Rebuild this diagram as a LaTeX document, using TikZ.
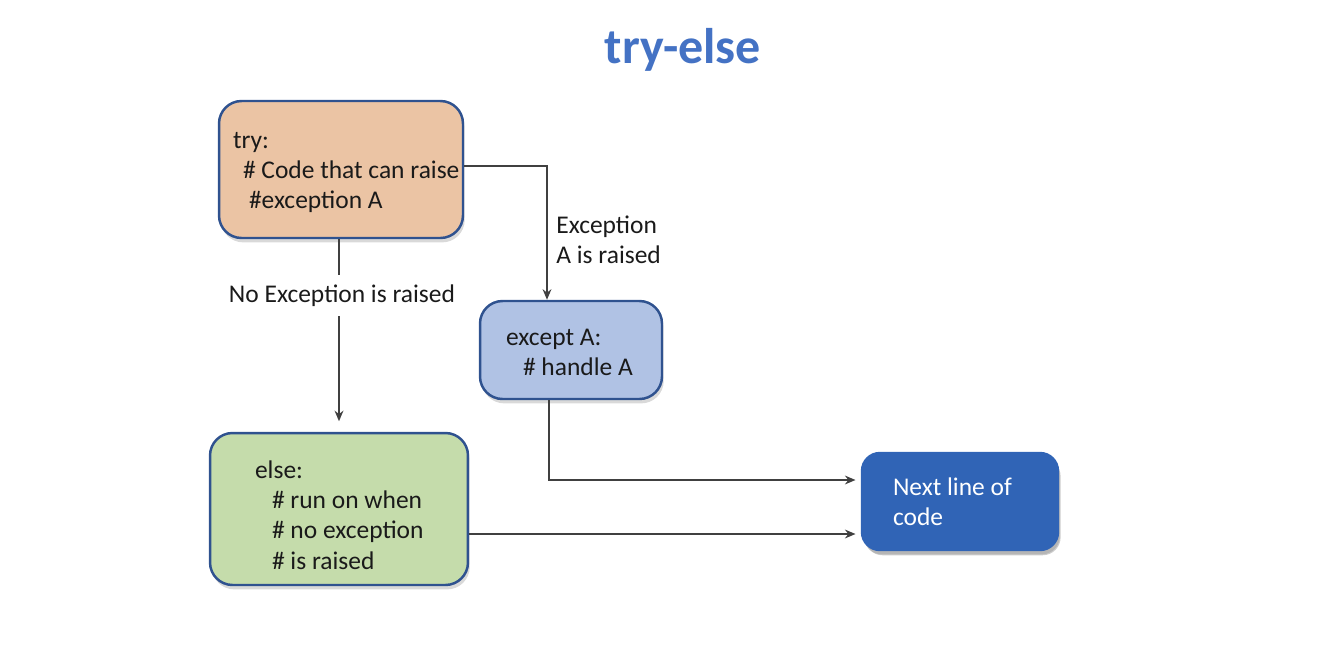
\documentclass[tikz,border=0pt]{standalone}
\usepackage{fontspec}
\setmainfont{Carlito}
\usetikzlibrary{arrows.meta,shadows}
\definecolor{bordc}{HTML}{2F528F}
\definecolor{tryc}{HTML}{EBC4A4}
\definecolor{excc}{HTML}{B0C2E4}
\definecolor{elsec}{HTML}{C5DCAB}
\definecolor{nextc}{HTML}{3064B6}
\definecolor{titlec}{HTML}{4472C4}
\definecolor{linec}{HTML}{404040}
\definecolor{txtc}{HTML}{1A1A1A}
\hbadness=10000 \hfuzz=100pt
\begin{document}
\begin{tikzpicture}[x=0.02cm,y=-0.02cm,
  box/.style={draw=bordc, line width=1.4pt, rounded corners=0.45cm, align=flush left, text=txtc,
    font=\fontsize{14.5}{17.2}\selectfont, inner ysep=0pt,
    drop shadow={shadow xshift=1pt, shadow yshift=-2.5pt, opacity=0.3}},
  arr/.style={draw=linec, line width=1.1pt, -{Stealth[length=6pt,width=5pt]}},
  ln/.style={draw=linec, line width=1.1pt},
  lbl/.style={text=txtc, font=\fontsize{14.5}{17.2}\selectfont, align=left, inner sep=0pt}]
\useasboundingbox (0,0) rectangle (1326,660);
\node[font=\fontsize{28.5}{34}\selectfont\bfseries, text=titlec] (title) at (683,50) {try-else};
\node[box, fill=tryc, minimum width=4.88cm, minimum height=2.74cm, text width=4.32cm, inner xsep=0.28cm] (try) at (341,169.5)
  {\mbox{\rule{0pt}{12.4pt}try:}\\\mbox{\hspace*{0.2cm}\# Code that can raise}\\\mbox{\hspace*{0.32cm}\#exception A}};
\node[box, fill=excc, minimum width=3.64cm, minimum height=1.96cm, text width=2.6cm, inner xsep=0.52cm] (except) at (571,350)
  {\mbox{\rule{0pt}{12.3pt}except A:}\\\mbox{\hspace*{0.34cm}\# handle A}};
\node[box, fill=elsec, minimum width=5.16cm, minimum height=3.04cm, text width=3.36cm, inner xsep=0.9cm] (else) at (339,509)
  {\mbox{\rule{0pt}{17pt}else:}\\\mbox{\hspace*{0.34cm}\# run on when}\\\mbox{\hspace*{0.34cm}\# no exception}\\\mbox{\hspace*{0.34cm}\# is raised}};
\node[box, draw=nextc, fill=nextc, text=white, rounded corners=0.36cm, minimum width=3.92cm, minimum height=1.94cm, text width=2.68cm, inner xsep=0.62cm,
  drop shadow={shadow xshift=1.5pt, shadow yshift=-3pt, opacity=0.4}] (next) at (960,501.5)
  {\mbox{Next line of}\\\mbox{code}};
\node[lbl, minimum height=0.82cm] (noexc) at (342,295.5) {No Exception is raised};
\node[lbl, anchor=west] (exclbl) at (556,240) {Exception\\A is raised};
\coordinate (c1) at (547,166);
\coordinate (c2) at (549,480);
\coordinate (c3) at (468,534);
\draw[arr] (try.east |- c1) -- (c1) -- (c1 |- except.north);
\draw[ln] (try.south -| else.north) -- (noexc.north -| else.north);
\draw[arr, shorten >=6pt] (noexc.south -| else.north) -- (else.north);
\draw[arr, shorten >=3pt] (except.south -| c2) -- (c2) -- (c2 -| next.west);
\draw[arr, shorten >=3pt] (else.east |- c3) -- (c3 -| next.west);
\end{tikzpicture}
\end{document}
